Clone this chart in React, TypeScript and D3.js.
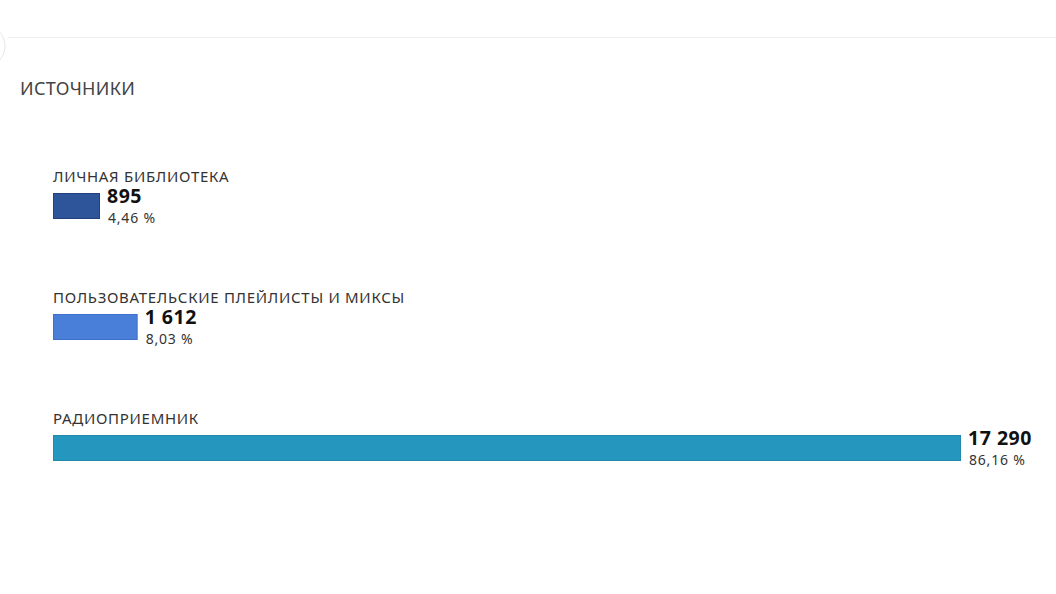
import React from "react";
import * as d3 from "d3";

const categories = [
  "ЛИЧНАЯ БИБЛИОТЕКА",
  "ПОЛЬЗОВАТЕЛЬСКИЕ ПЛЕЙЛИСТЫ И МИКСЫ",
  "РАДИОПРИЕМНИК",
];
const values = [895, 1612, 17290];
const valueLabels = ["895", "1 612", "17 290"];
const percentLabels = ["4,46 %", "8,03 %", "86,16 %"];
const colors = ["#2e5499", "#4a7fd9", "#2596be"];
const strokeColors = ["#22407a", "#3f70c8", "#2288ad"];
const title = "ИСТОЧНИКИ";

const W = 1056;
const H = 594;

export default function App() {
  const x = d3
    .scaleLinear()
    .domain([0, d3.max(values) as number])
    .range([53, 961]);
  const y = d3.scalePoint<string>().domain(categories).range([193, 435]);
  const barH = 26;
  const font = "'Noto Sans', 'Open Sans', sans-serif";

  return (
    <svg
      width={W}
      height={H}
      style={{ position: "absolute", left: 0, top: 0, background: "#fff" }}
      fontFamily={font}
    >
      <rect x={0} y={0} width={W} height={H} fill="#ffffff" />
      <line x1={8} x2={W} y1={37.5} y2={37.5} stroke="#eeeeee" strokeWidth={1} />
      <circle cx={-16} cy={46} r={21} fill="none" stroke="#e6e6e6" strokeWidth={1} />
      <text x={20} y={95} fontSize={18} fill="#444" letterSpacing={0.3}>
        {title}
      </text>
      {categories.map((c, i) => {
        const y0 = y(c) as number;
        const xEnd = x(values[i]);
        return (
          <g key={c}>
            <text x={53} y={y0 - 11} fontSize={15} fill="#333" letterSpacing={0.7}>
              {c}
            </text>
            <rect
              x={x(0) + 0.5}
              y={y0 + 0.5}
              width={xEnd - x(0) - 1}
              height={barH - 1}
              fill={colors[i]}
              stroke={strokeColors[i]}
              strokeWidth={1}
            />
            <text
              x={xEnd + 7}
              y={y0 + 9.5}
              fontSize={19.5}
              fontWeight="bold"
              fill="#111"
              letterSpacing={0.5}
            >
              {valueLabels[i]}
            </text>
            <text x={xEnd + 8} y={y0 + 30} fontSize={14} fill="#333" letterSpacing={0.8}>
              {percentLabels[i]}
            </text>
          </g>
        );
      })}
    </svg>
  );
}
